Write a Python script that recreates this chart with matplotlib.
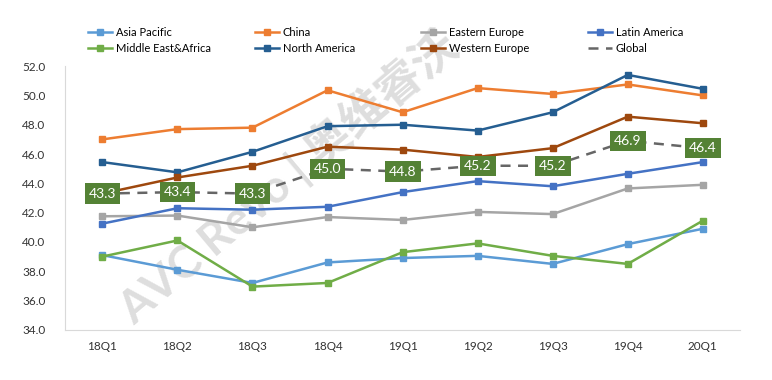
import matplotlib
matplotlib.use("Agg")
import matplotlib.pyplot as plt
from matplotlib.lines import Line2D

plt.rcParams['font.family'] = ['Lato', 'Noto Sans CJK SC', 'DejaVu Sans']

quarters = ['18Q1', '18Q2', '18Q3', '18Q4', '19Q1', '19Q2', '19Q3', '19Q4', '20Q1']

asia_pacific = [39.1, 38.1, 37.2, 38.6, 38.9, 39.05, 38.5, 39.85, 40.9]
china = [47.0, 47.7, 47.8, 50.35, 48.85, 50.5, 50.1, 50.75, 50.0]
eastern_europe = [41.75, 41.8, 41.0, 41.7, 41.5, 42.05, 41.9, 43.65, 43.9]
latin_america = [41.25, 42.3, 42.2, 42.4, 43.4, 44.15, 43.8, 44.65, 45.45]
middle_east_africa = [39.0, 40.1, 36.95, 37.2, 39.3, 39.9, 39.05, 38.5, 41.45]
north_america = [45.45, 44.75, 46.15, 47.9, 48.0, 47.6, 48.85, 51.4, 50.45]
western_europe = [43.3, 44.4, 45.2, 46.5, 46.3, 45.8, 46.4, 48.55, 48.1]
global_avg = [43.3, 43.4, 43.3, 45.0, 44.8, 45.2, 45.2, 46.9, 46.4]

series = [
    ('Asia Pacific', asia_pacific, '#5B9BD5'),
    ('China', china, '#ED7D31'),
    ('Eastern Europe', eastern_europe, '#A5A5A5'),
    ('Latin America', latin_america, '#4472C4'),
    ('Middle East&Africa', middle_east_africa, '#70AD47'),
    ('North America', north_america, '#255E91'),
    ('Western Europe', western_europe, '#9E480E'),
]

fig = plt.figure(figsize=(7.72, 3.8), dpi=100)
ax = fig.add_axes([0.084, 0.132, 0.875, 0.694])

x = list(range(len(quarters)))

# watermark, kept behind the data
ax.text(0.33, 0.58, 'AVC Revo | 奥维睿沃', transform=ax.transAxes, fontsize=33,
        color='#dedede', rotation=40, ha='center', va='center', fontweight='bold',
        zorder=1, clip_on=False, family=['Lato', 'Noto Sans CJK SC'])

handles = []
for name, vals, col in series:
    ax.plot(x, vals, color=col, lw=1.8, marker='s', ms=4.5, zorder=3)
    handles.append(Line2D([], [], color=col, lw=1.8, marker='s', ms=4))

ax.plot(x, global_avg, color='#666666', lw=1.8, ls=(0, (4, 3)), zorder=3)
handles.append(Line2D([], [], color='#666666', lw=1.8, ls=(0, (4, 3))))

for xi, v in zip(x, global_avg):
    ax.text(xi, v, f'{v:.1f}', ha='center', va='center', color='white',
            fontsize=10, zorder=5,
            bbox=dict(boxstyle='square,pad=0.3', fc='#548235', ec='none'))

ax.set_xlim(-0.5, 8.5)
ax.set_ylim(34, 52)
ax.set_yticks([34 + 2 * i for i in range(10)])
ax.set_yticklabels([f'{34 + 2 * i:.1f}' for i in range(10)])
ax.set_xticks(x)
ax.set_xticklabels(quarters)
ax.tick_params(length=0, labelsize=8.5, colors='#333333')
ax.tick_params(axis='x', pad=8)
ax.tick_params(axis='y', pad=14)
for s in ['top', 'right']:
    ax.spines[s].set_visible(False)
for s in ['left', 'bottom']:
    ax.spines[s].set_color('#d9d9d9')
    ax.spines[s].set_linewidth(0.8)
ax.patch.set_alpha(0)

# legend: 4 equal-width columns, 2 rows, filled row by row
names = [s[0] for s in series] + ['Global']
col_x = [88, 255, 421, 588]
for c in range(4):
    fig.legend([handles[c], handles[c + 4]], [names[c], names[c + 4]],
               loc='upper left', bbox_to_anchor=(col_x[c] / 772, 1 - 27 / 380),
               frameon=False, fontsize=8, handlelength=2.2, handletextpad=0.3,
               labelspacing=0.45, borderaxespad=0, borderpad=0)

fig.savefig('out.png', dpi=100)
